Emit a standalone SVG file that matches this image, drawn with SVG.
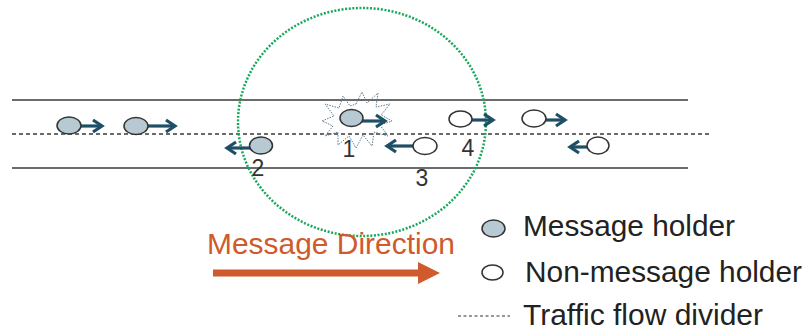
<svg xmlns="http://www.w3.org/2000/svg" width="810" height="331" viewBox="0 0 810 331">
<defs>
<marker id="chev" markerUnits="userSpaceOnUse" markerWidth="14" markerHeight="16" refX="11" refY="8" orient="auto">
<path d="M2,2 L11,8 L2,14" fill="none" stroke="#1d4f66" stroke-width="3.2"/>
</marker>
<marker id="big" markerUnits="userSpaceOnUse" markerWidth="24" markerHeight="24" refX="2" refY="12" orient="auto">
<path d="M0,1 L22,12 L0,23 Z" fill="#cf5a2b"/>
</marker>
</defs>
<style>
.road{stroke:#3a3a3a;stroke-width:1.6;fill:none}
.div{stroke:#3a3a3a;stroke-width:1.3;stroke-dasharray:4 3;fill:none}
.mh{fill:#b7c9d3;stroke:#333;stroke-width:1.5}
.nh{fill:#fff;stroke:#333;stroke-width:1.5}
.mv{stroke:#1d4f66;stroke-width:3.2;fill:none;marker-end:url(#chev)}
.num{font-family:"Liberation Sans",Arial,sans-serif;font-size:23px;fill:#333;text-anchor:middle}
.leg{font-family:"Liberation Sans",Arial,sans-serif;font-size:29px;fill:#222}
</style>
<g id="road">
<line class="road" x1="12" y1="100" x2="688" y2="100"/>
<line class="road" x1="12" y1="168" x2="688" y2="168"/>
<line class="div" x1="12" y1="134" x2="712" y2="134"/>
</g>
<g id="range">
<ellipse cx="362" cy="122" rx="124" ry="114" fill="none" stroke="#17a85a" stroke-width="2.5" stroke-dasharray="2 1.6"/>
</g>
<g id="burst">
<polygon points="356,104 362,92 367,103 378,93 376,107 390,104 381,115 392,121 380,125 388,136 374,132 372,146 363,135 356,148 349,136 338,145 338,132 325,136 333,126 322,121 334,116 325,104 339,108 343,96 350,106" fill="none" stroke="#5b7c90" stroke-width="1" stroke-dasharray="1.5 1.2"/>
</g>
<g id="connectors">
<line class="mv" x1="80" y1="126" x2="102" y2="126"/>
<line class="mv" x1="148" y1="126" x2="175" y2="126"/>
<line class="mv" x1="251" y1="148" x2="227" y2="148"/>
<line class="mv" x1="360" y1="121" x2="385" y2="121"/>
<line class="mv" x1="413" y1="146" x2="387" y2="146"/>
<line class="mv" x1="466" y1="120" x2="493" y2="120"/>
<line class="mv" x1="540" y1="120" x2="565" y2="120"/>
<line class="mv" x1="596" y1="147" x2="570" y2="147"/>
</g>
<g id="car-a"><ellipse class="mh" cx="69" cy="125.5" rx="12" ry="8.5"/></g>
<g id="car-b"><ellipse class="mh" cx="136" cy="126" rx="12" ry="8.5"/></g>
<g id="car-2"><ellipse class="mh" cx="261" cy="145.5" rx="11.5" ry="8.5"/><text class="num" x="258" y="176">2</text></g>
<g id="car-1"><ellipse class="mh" cx="351.5" cy="118" rx="11.5" ry="8.5"/><text class="num" x="349" y="157">1</text></g>
<g id="car-3"><ellipse class="nh" cx="425" cy="146" rx="12" ry="8.5"/><text class="num" x="422" y="186">3</text></g>
<g id="car-4"><ellipse class="nh" cx="460.5" cy="119" rx="11.5" ry="8"/><text class="num" x="468" y="156">4</text></g>
<g id="car-c"><ellipse class="nh" cx="534" cy="118.5" rx="12" ry="8.5"/></g>
<g id="car-d"><ellipse class="nh" cx="598" cy="145.5" rx="11" ry="8.5"/></g>
<g id="direction">
<text x="207" y="254" font-family="'Liberation Sans',Arial,sans-serif" font-size="29" fill="#cf5a2b" textLength="248" lengthAdjust="spacingAndGlyphs">Message Direction</text>
<line x1="213" y1="273" x2="420" y2="273" stroke="#cf5a2b" stroke-width="7" marker-end="url(#big)"/>
</g>
<g id="legend">
<ellipse class="mh" cx="493.5" cy="228.5" rx="11.5" ry="8.5"/>
<text class="leg" x="523" y="236" textLength="212" lengthAdjust="spacingAndGlyphs">Message holder</text>
<ellipse class="nh" cx="492.5" cy="272.5" rx="10.5" ry="7.5"/>
<text class="leg" x="525" y="282" textLength="277" lengthAdjust="spacingAndGlyphs">Non-message holder</text>
<line x1="458" y1="316" x2="510" y2="316" stroke="#333" stroke-width="1.2" stroke-dasharray="3 2.5"/>
<text class="leg" x="523" y="325" font-size="28" textLength="240" lengthAdjust="spacingAndGlyphs">Traffic flow divider</text>
</g>
</svg>
